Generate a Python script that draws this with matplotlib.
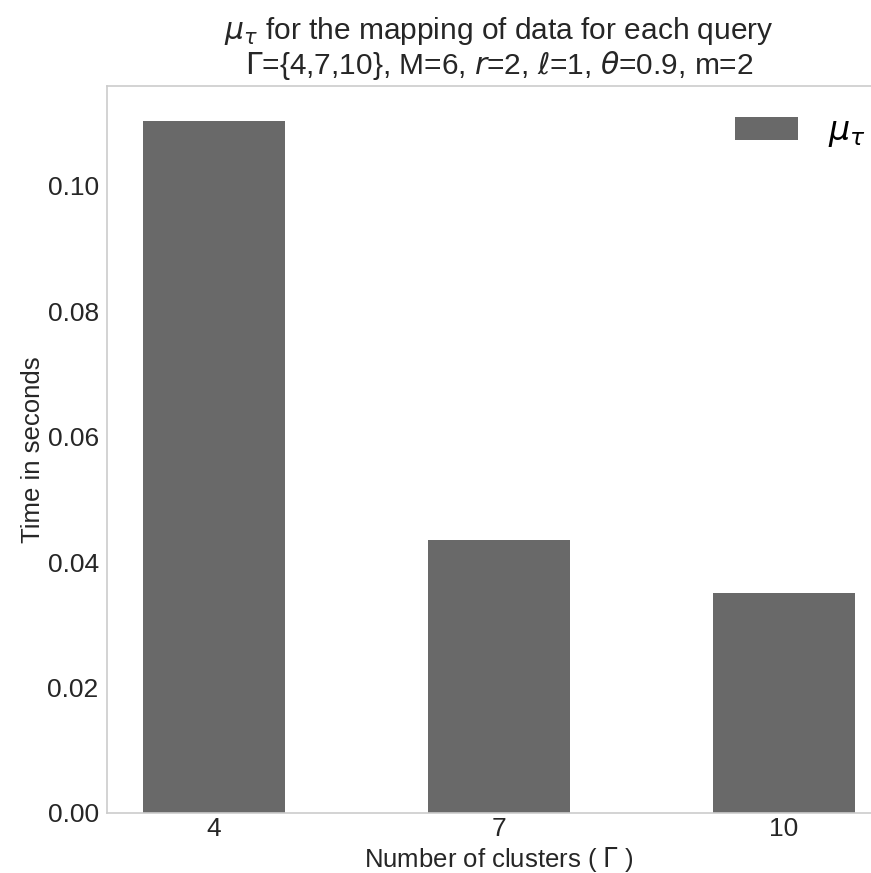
import matplotlib
matplotlib.use("Agg")
import matplotlib.pyplot as plt
import numpy as np

# mean mapping time per query
clusters = ["4", "7", "10"]
mu_tau = [0.1104, 0.0435, 0.0351]

plt.rcParams['font.family'] = ['Liberation Sans', 'DejaVu Sans']
plt.rcParams['mathtext.fontset'] = 'dejavusans'

fig = plt.figure(figsize=(8.71, 8.73), dpi=100)
# axes runs past the right edge, as in the cropped reference
ax = fig.add_axes([107 / 871, 1 - 813 / 873, 784 / 871, 727 / 873])

x = np.arange(len(clusters))
ax.bar(x, mu_tau, width=0.5, color="#696969", label=r"$\mu_\tau$")
ax.set_xticks(x)
ax.set_xticklabels(clusters)
ax.set_xlim(-0.375, len(clusters) - 1 + 0.375)
ax.set_ylim(0, max(mu_tau) * 1.05)
ax.set_yticks([0.0, 0.02, 0.04, 0.06, 0.08, 0.10])
ax.yaxis.set_major_formatter(matplotlib.ticker.FormatStrFormatter("%.2f"))

for s in ax.spines.values():
    s.set_color("#cccccc")
    s.set_linewidth(1.2)
ax.tick_params(length=0, labelsize=19, colors="#262626", pad=6)
ax.tick_params(axis="x", pad=3)

ax.set_xlabel(r"Number of clusters ( $\Gamma$ )", fontsize=18.5, color="#262626", labelpad=3)
ax.set_ylabel("Time in seconds", fontsize=18.5, color="#262626", labelpad=2)
ax.set_title(r"$\mu_\tau$ for the mapping of data for each query" "\n"
             r"$\Gamma$={4,7,10}, M=6, $r$=2, $\ell$=1, $\theta$=0.9, m=2",
             fontsize=21.5, color="#262626", pad=9, linespacing=1.05)

ax.legend(loc="upper right", frameon=False, fontsize=24, bbox_to_anchor=(1.006, 1.0),
          handlelength=1.9, handletextpad=0.9)

plt.savefig("out.png", dpi=100)
